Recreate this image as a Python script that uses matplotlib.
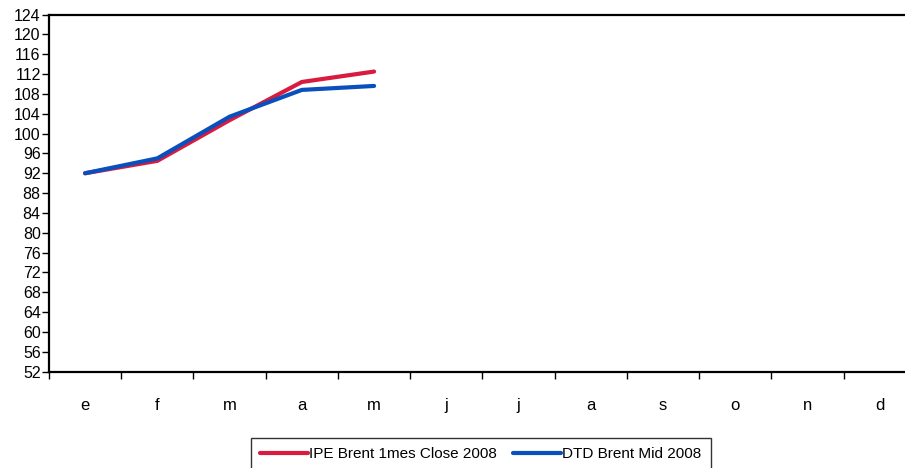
import matplotlib
matplotlib.use("Agg")
import matplotlib.pyplot as plt

months = ['e', 'f', 'm', 'a', 'm', 'j', 'j', 'a', 's', 'o', 'n', 'd']
ipe_brent = [92.0, 94.5, 102.7, 110.4, 112.5]
dtd_brent = [92.0, 95.0, 103.4, 108.8, 109.6]
y_ticks = list(range(52, 125, 4))

plt.rcParams['font.family'] = ['Liberation Sans', 'DejaVu Sans']

fig = plt.figure(figsize=(9.05, 4.68), dpi=100)
ax = fig.add_axes([0.0541, 0.2058, 0.9580, 0.7632])

x = list(range(len(ipe_brent)))
ax.plot(x, ipe_brent, color='#D81B3E', lw=3.0, solid_capstyle='round',
        label='IPE Brent 1mes Close 2008')
ax.plot(x, dtd_brent, color='#0A50BC', lw=3.0, solid_capstyle='round',
        label='DTD Brent Mid 2008')

ax.set_xlim(-0.5, len(months) - 0.5)
ax.set_ylim(52, 124)
ax.set_yticks(y_ticks)
ax.set_yticklabels([str(v) for v in y_ticks], fontsize=11.5)

# category labels centred, tick marks between categories
ax.set_xticks(range(len(months)))
ax.set_xticklabels(months, fontsize=12)
ax.set_xticks([i - 0.5 for i in range(len(months) + 1)], minor=True)
ax.tick_params(axis='x', which='major', length=0, pad=19)
ax.tick_params(axis='x', which='minor', length=5, width=1, direction='out')
ax.tick_params(axis='y', length=5, width=1, direction='out', pad=1)

for side in ['left', 'top', 'bottom', 'right']:
    ax.spines[side].set_linewidth(1.6)
    ax.spines[side].set_color('black')

leg = fig.legend(loc='upper center', bbox_to_anchor=(0.531, 0.064), ncol=2,
                 fontsize=11, frameon=True, fancybox=False, handlelength=3.15,
                 handletextpad=0.1, columnspacing=1.0, borderpad=0.6,
                 borderaxespad=0)
leg.get_frame().set_edgecolor('black')
leg.get_frame().set_linewidth(1.0)

fig.savefig('out.png', dpi=100)
